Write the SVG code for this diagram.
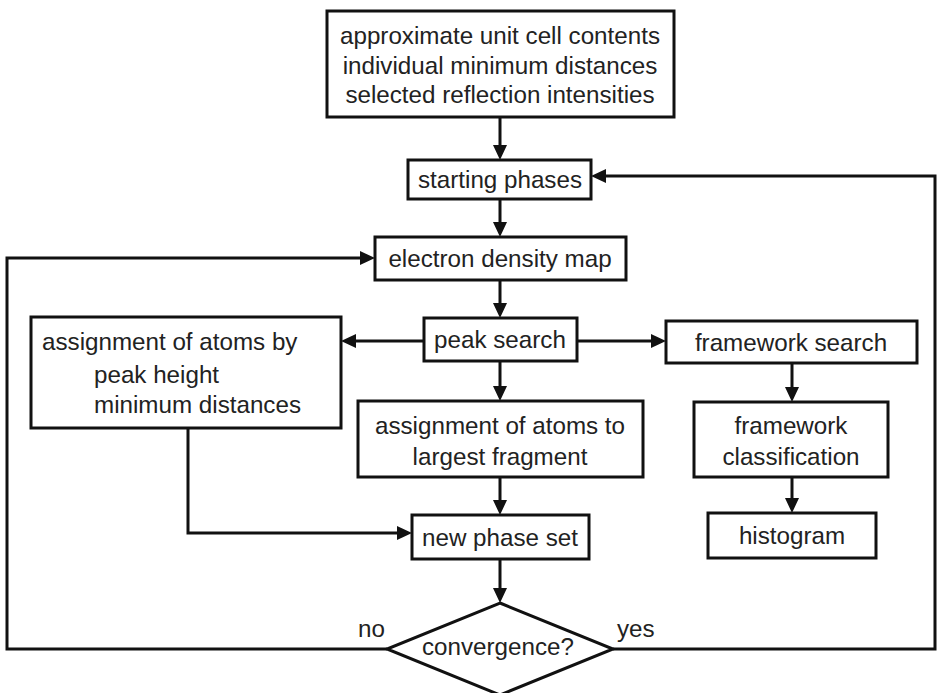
<svg xmlns="http://www.w3.org/2000/svg" width="939" height="693" viewBox="0 0 939 693">
<style>
.box{fill:#fff;stroke:#111;stroke-width:3}
.ln{fill:none;stroke:#111;stroke-width:3}
.ar{marker-end:url(#ah)}
text{font-family:"Liberation Sans",Arial,sans-serif;font-size:24.2px;fill:#222}
.c{text-anchor:middle}
</style>
<defs>
<marker id="ah" markerUnits="userSpaceOnUse" viewBox="0 0 15 14" markerWidth="15" markerHeight="14" refX="7" refY="7" orient="auto">
<path d="M0,0 L15,7 L0,14 z" fill="#111"/>
</marker>
</defs>
<rect width="939" height="693" fill="#fff"/>
<g id="connectors">
<line class="ln ar" x1="500" y1="117" x2="500" y2="152"/>
<line class="ln ar" x1="500" y1="199" x2="500" y2="229"/>
<line class="ln ar" x1="500" y1="280" x2="500" y2="310"/>
<line class="ln ar" x1="424" y1="341" x2="349" y2="341"/>
<line class="ln ar" x1="577" y1="341" x2="658" y2="341"/>
<line class="ln ar" x1="500" y1="361" x2="500" y2="393"/>
<line class="ln ar" x1="500" y1="477" x2="500" y2="507"/>
<line class="ln ar" x1="500" y1="559" x2="500" y2="595"/>
<line class="ln ar" x1="792" y1="363" x2="792" y2="394"/>
<line class="ln ar" x1="792" y1="477" x2="792" y2="505"/>
<polyline class="ln ar" points="188,428 188,533 404,533"/>
<polyline class="ln ar" points="387,649 7,649 7,258 367,258"/>
<polyline class="ln ar" points="613,649 935,649 935,176 599,176"/>
</g>
<g id="n-inputs">
<rect class="box" x="327" y="11" width="347" height="106"/>
<text class="c" x="500" y="44">approximate unit cell contents</text>
<text class="c" x="500" y="74">individual minimum distances</text>
<text class="c" x="500" y="103">selected reflection intensities</text>
</g>
<g id="n-starting">
<rect class="box" x="408" y="160" width="183" height="39"/>
<text class="c" x="500" y="188">starting phases</text>
</g>
<g id="n-density">
<rect class="box" x="375" y="237" width="251" height="43"/>
<text class="c" x="500" y="267">electron density map</text>
</g>
<g id="n-peak">
<rect class="box" x="424" y="318" width="153" height="43"/>
<text class="c" x="500" y="348">peak search</text>
</g>
<g id="n-assign-height">
<rect class="box" x="31" y="317" width="310" height="111"/>
<text x="42" y="350">assignment of atoms by</text>
<text x="94" y="383">peak height</text>
<text x="94" y="413">minimum distances</text>
</g>
<g id="n-framework-search">
<rect class="box" x="666" y="321" width="251" height="42"/>
<text class="c" x="791" y="351">framework search</text>
</g>
<g id="n-assign-fragment">
<rect class="box" x="358" y="401" width="285" height="76"/>
<text class="c" x="500" y="434">assignment of atoms to</text>
<text class="c" x="500" y="465">largest fragment</text>
</g>
<g id="n-classification">
<rect class="box" x="694" y="402" width="194" height="75"/>
<text class="c" x="791" y="434">framework</text>
<text class="c" x="791" y="465">classification</text>
</g>
<g id="n-histogram">
<rect class="box" x="708" y="513" width="168" height="45"/>
<text class="c" x="792" y="544">histogram</text>
</g>
<g id="n-newphase">
<rect class="box" x="412" y="515" width="177" height="44"/>
<text class="c" x="500" y="546">new phase set</text>
</g>
<g id="n-convergence">
<polygon class="box" points="500,603 613,649 500,695 387,649"/>
<text class="c" x="498" y="655">convergence?</text>
</g>
<text x="358" y="637">no</text>
<text x="617" y="637">yes</text>
</svg>
